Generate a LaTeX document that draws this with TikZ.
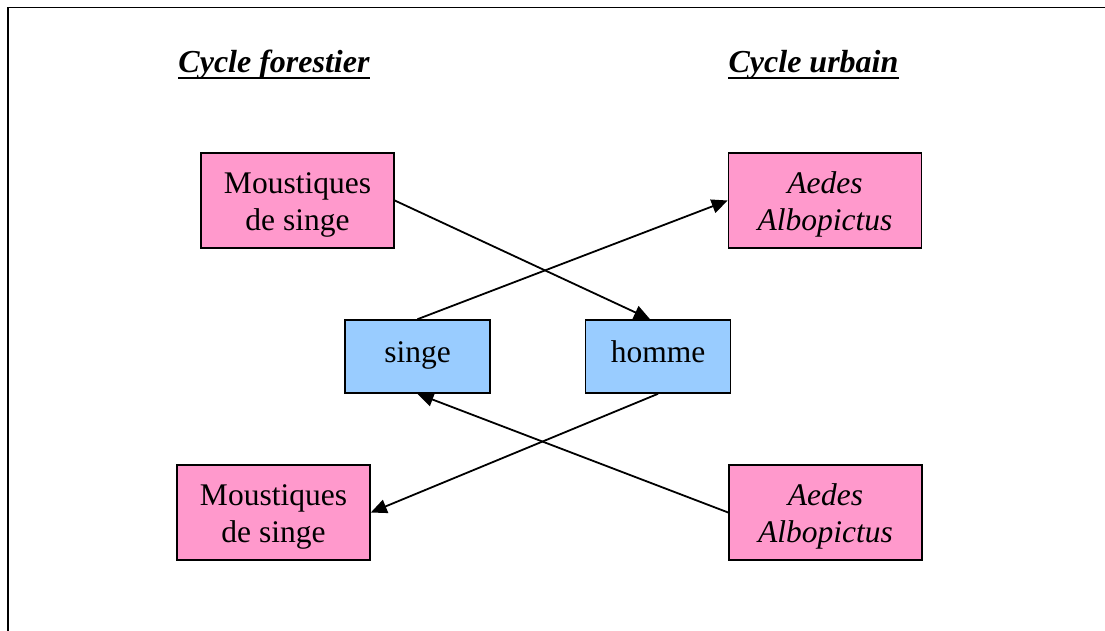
\documentclass[tikz,border=0pt]{standalone}
\usepackage{fontspec}
\setmainfont{Liberation Serif}
\usetikzlibrary{arrows.meta}
\definecolor{pinkbox}{HTML}{FF99CC}
\definecolor{bluebox}{HTML}{99CCFF}
\newcommand{\topstrut}{\rule{0pt}{29pt}}
\begin{document}
\begin{tikzpicture}[x=1pt,y=-1pt,
  every node/.style={font=\fontsize{31.5}{37}\selectfont},
  pbox/.style={draw=black,line width=1.6pt,fill=pinkbox,minimum width=193pt,minimum height=95pt,inner sep=0pt,align=center},
  bbox/.style={draw=black,line width=1.6pt,fill=bluebox,minimum width=145pt,minimum height=73pt,inner sep=0pt,text height=20pt,text depth=9pt},
  conn/.style={line width=1.8pt,-{Triangle[length=16pt,width=14pt]}},
  ttl/.style={inner sep=0pt,anchor=base,font=\fontsize{32}{36}\selectfont\bfseries\itshape}]
\useasboundingbox (0,0) rectangle (1105,630);
\fill[white] (0,0) rectangle (1105,630);
\draw[line width=1.6pt] (8,640) -- (8,7.5) -- (1115,7.5);
% titles
\node[ttl] (t1) at (274,72) {Cycle forestier};
\node[ttl] (t2) at (813.5,72) {Cycle urbain};
\draw[line width=2.5pt] ([yshift=-6pt]t1.base west) -- ([yshift=-6pt]t1.base east);
\draw[line width=2.5pt] ([yshift=-6pt]t2.base west) -- ([yshift=-6pt]t2.base east);
% boxes
\node[pbox] (tl) at (297.5,200.5) {\topstrut Moustiques\\de singe};
\node[pbox] (tr) at (825,200.5) {\topstrut\itshape Aedes\\\itshape Albopictus};
\node[bbox] (sg) at (417.5,356.5) {singe};
\node[bbox] (hm) at (658,356.5) {homme};
\node[pbox] (bl) at (273.5,512.5) {\topstrut Moustiques\\de singe};
\node[pbox] (br) at (825.5,512.5) {\topstrut\itshape Aedes\\\itshape Albopictus};
% connectors
\draw[conn] (tl.east) -- ([xshift=-8pt]hm.north);
\draw[conn] (sg.north) -- (tr.west);
\draw[conn] (hm.south) -- (bl.east);
\draw[conn] (br.west) -- (sg.south);
\end{tikzpicture}
\end{document}
